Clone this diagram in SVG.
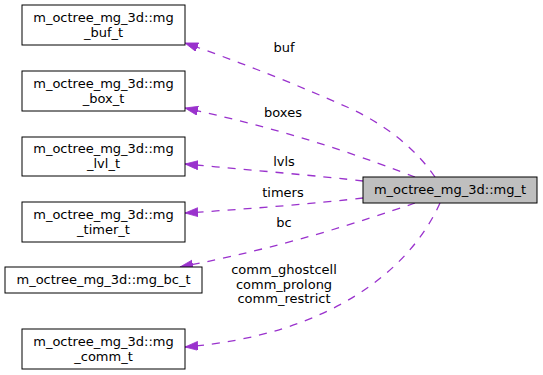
<svg xmlns="http://www.w3.org/2000/svg" width="543" height="375" viewBox="0 0 543 375">
<style>
text{font-family:"DejaVu Sans",sans-serif;font-size:13px;fill:#000;text-anchor:middle}
.n{fill:#fff;stroke:#000;stroke-width:1}
.m{fill:#bfbfbf;stroke:#000;stroke-width:1}
.e{fill:none;stroke:#9a32cd;stroke-width:1.3;stroke-dasharray:8,8;marker-end:url(#ah)}
</style>
<defs>
<marker id="ah" markerUnits="userSpaceOnUse" markerWidth="14" markerHeight="10" refX="13" refY="4.5" orient="auto" viewBox="0 0 14 10">
<path d="M0,0 L13,4.5 L0,9 z" fill="#9a32cd" stroke="#9a32cd" stroke-width="0.8"/>
</marker>
</defs>
<g id="connectors">
<path class="e" d="M435,177 C415,148 385,124 347,107 C300,86 240,62 185,43"/>
<text x="284" y="52">buf</text>
<path class="e" d="M415,177 C370,160 300,133 185,108"/>
<text x="283" y="117">boxes</text>
<path class="e" d="M363,181 C320,176 250,170 185,164"/>
<text x="284" y="166">lvls</text>
<path class="e" d="M363,198 C320,203 250,209 185,213"/>
<text x="283" y="197">timers</text>
<path class="e" d="M415,203 C360,222 280,248 180,267"/>
<text x="284" y="227">bc</text>
<path class="e" d="M440,203 C410,270 330,335 185,347"/>
<text x="284" y="274">comm_ghostcell</text>
<text x="284" y="288.5">comm_prolong</text>
<text x="284" y="303">comm_restrict</text>
</g>
<g id="mg_t">
<rect class="m" x="363" y="177" width="174" height="26"/>
<text x="450" y="194">m_octree_mg_3d::mg_t</text>
</g>
<g id="mg_buf_t">
<rect class="n" x="22" y="5" width="163" height="40"/>
<text x="103.5" y="22">m_octree_mg_3d::mg</text>
<text x="103.5" y="37">_buf_t</text>
</g>
<g id="mg_box_t">
<rect class="n" x="22" y="71" width="163" height="40"/>
<text x="103.5" y="88">m_octree_mg_3d::mg</text>
<text x="103.5" y="103">_box_t</text>
</g>
<g id="mg_lvl_t">
<rect class="n" x="22" y="137" width="163" height="39"/>
<text x="103.5" y="153">m_octree_mg_3d::mg</text>
<text x="103.5" y="168">_lvl_t</text>
</g>
<g id="mg_timer_t">
<rect class="n" x="22" y="202" width="163" height="40"/>
<text x="103.5" y="219">m_octree_mg_3d::mg</text>
<text x="103.5" y="234">_timer_t</text>
</g>
<g id="mg_bc_t">
<rect class="n" x="5" y="267" width="197" height="26"/>
<text x="103.5" y="284">m_octree_mg_3d::mg_bc_t</text>
</g>
<g id="mg_comm_t">
<rect class="n" x="22" y="329" width="163" height="40"/>
<text x="103.5" y="346">m_octree_mg_3d::mg</text>
<text x="103.5" y="361">_comm_t</text>
</g>
</svg>
